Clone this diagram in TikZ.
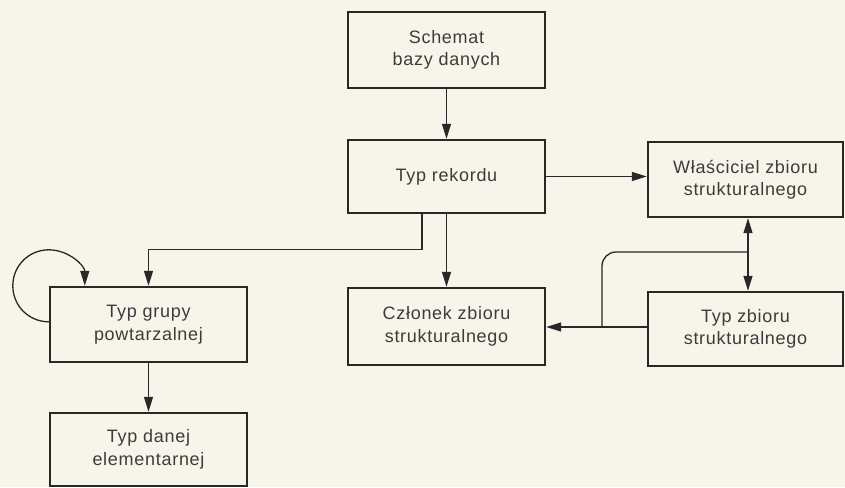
\documentclass[tikz,border=0pt]{standalone}
\usepackage{fontspec}
\setmainfont{Liberation Sans}[LetterSpace=4]
\usetikzlibrary{arrows.meta,calc}
\definecolor{paper}{RGB}{247,245,234}
\definecolor{ink}{RGB}{40,40,40}
\definecolor{print}{RGB}{60,60,60}
\begin{document}
\begin{tikzpicture}[x=1pt,y=-1pt,
  box/.style={draw=ink, line width=2.4pt, minimum width=197pt, minimum height=75pt,
    align=center, inner sep=0pt, text=print, font=\fontsize{18}{22.5}\selectfont},
  link/.style={draw=ink, line width=1.3pt},
  tip/.style={-{Triangle[length=15pt,width=9pt]}},
  twotip/.style={{Triangle[length=15pt,width=9pt]}-{Triangle[length=15pt,width=9pt]}}]

% sheet
\fill[paper] (0,0) rectangle (845,487);
\useasboundingbox (0,0) rectangle (845,487);

% boxes
\node[box, minimum height=76pt] (schema) at (446.5,50) {Schemat\\bazy danych};
\node[box, minimum height=73pt] (rekord) at (446.5,176.5) {Typ rekordu};
\node[box, minimum width=195pt] (wlasc) at (745.5,179.5) {Właściciel zbioru\\strukturalnego};
\node[box, minimum height=77pt] (czlonek) at (446.5,326.5) {Członek zbioru\\strukturalnego};
\node[box, minimum width=195pt, minimum height=74pt] (zbior) at (745.5,329) {Typ zbioru\\strukturalnego};
\node[box] (grupa) at (148.5,324.5) {Typ grupy\\powtarzalnej};
\node[box, minimum height=73pt] (danej) at (148.5,449.5) {Typ danej\\elementarnej};

% connectors
\draw[link,tip] (schema) -- (rekord);
\draw[link,tip] (rekord.east) -- (rekord.east -| wlasc.west);
\draw[link,tip] (rekord) -- (czlonek);
\draw[link,tip] ([xshift=-24.5pt]rekord.south) -- ++(0,35) -| (grupa.north);
\draw[link,tip] (grupa) -- (danej);

% set type links
\coordinate (junc) at (748,252);
\coordinate (merge) at (602,327);
\draw[link,twotip] (junc |- wlasc.south) -- (junc |- zbior.north);
\draw[link,tip] (zbior.west |- merge) -- (czlonek.east |- merge);
\draw[link,rounded corners=14pt] (junc) -| (merge);

% recursive group loop
\draw[link,tip] ($(grupa.north west)+(0,36)$)
  .. controls +(-20,0) and +(0,20) .. ($(grupa.north west)+(-36,0)$)
  .. controls +(0,-20) and +(-20,0) .. ($(grupa.north west)+(0,-36)$)
  .. controls +(20,0) and +(0,-20) .. ($(grupa.north west)+(36,0)$);
\end{tikzpicture}
\end{document}
